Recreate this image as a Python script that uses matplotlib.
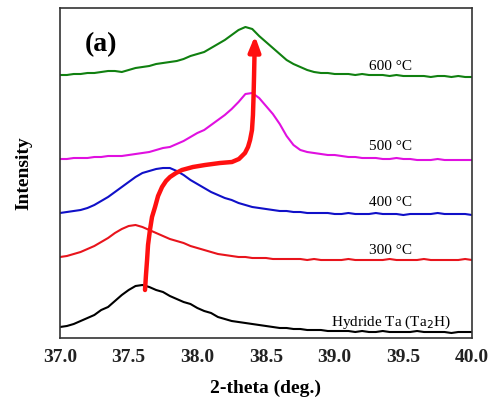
import numpy as np
import matplotlib
matplotlib.use("Agg")
import matplotlib.pyplot as plt

# 2-theta grid (deg.)
two_theta = [round(37.0 + 0.05 * i, 2) for i in range(61)]

hydride = [11, 12, 14, 17, 20, 23, 28, 31, 37, 43,
           48, 52, 53, 51, 48, 46, 42, 39, 36, 34,
           30, 27, 25, 21, 19, 17, 16, 15, 14, 13,
           12, 11, 10, 10, 9, 9, 8, 8, 8, 7,
           7, 7, 7, 6, 7, 6, 6, 7, 6, 6,
           6, 6, 7, 6, 6, 6, 6, 5, 6, 6, 6]
t300 = [81, 82, 84, 86, 89, 92, 96, 100, 105, 109,
        112, 113, 111, 108, 105, 102, 99, 97, 95, 92,
        90, 88, 86, 84, 83, 82, 81, 81, 80, 80,
        80, 79, 79, 79, 79, 79, 78, 79, 78, 78,
        78, 78, 79, 78, 78, 78, 78, 78, 79, 78,
        78, 78, 78, 79, 78, 78, 78, 78, 78, 79, 78]
t400 = [125, 126, 127, 128, 130, 133, 137, 141, 146, 151,
        156, 161, 165, 167, 169, 170, 170, 167, 163, 158,
        154, 150, 146, 143, 140, 138, 135, 133, 131, 130,
        129, 128, 127, 127, 126, 126, 125, 125, 125, 125,
        124, 124, 125, 124, 124, 124, 125, 124, 124, 124,
        123, 124, 124, 124, 124, 125, 124, 124, 124, 124, 123]
t500 = [179, 179, 180, 180, 180, 181, 181, 182, 182, 182,
        183, 184, 185, 186, 188, 190, 191, 194, 197, 201,
        205, 208, 213, 218, 223, 229, 236, 244, 245, 240,
        232, 224, 214, 202, 193, 188, 186, 185, 184, 183,
        183, 182, 181, 181, 180, 180, 180, 179, 179, 180,
        179, 179, 178, 178, 178, 179, 178, 178, 178, 178, 178]
t600 = [263, 263, 264, 264, 265, 265, 266, 267, 267, 266,
        268, 270, 271, 272, 274, 275, 276, 277, 279, 282,
        284, 286, 290, 294, 298, 303, 308, 311, 309, 302,
        296, 290, 284, 278, 274, 271, 268, 266, 265, 265,
        264, 264, 264, 263, 264, 263, 263, 263, 262, 263,
        262, 262, 262, 262, 261, 262, 262, 261, 262, 261, 261]

series_labels = ["Hydride Ta (Ta$_2$H)", "300 \u00b0C", "400 \u00b0C", "500 \u00b0C", "600 \u00b0C"]
series_colors = ["#000000", "#e8141c", "#1010c8", "#e010e0", "#108010"]

# peak-shift arrow path
arrow_x = [37.619, 37.626, 37.634, 37.641, 37.655, 37.670, 37.692, 37.714, 37.743,
           37.772, 37.801, 37.845, 37.888, 37.968, 38.056, 38.165, 38.252, 38.303,
           38.347, 38.369, 38.384, 38.398, 38.405, 38.409, 38.413, 38.416]
arrow_y = [48, 63, 78, 93, 108, 121, 131, 142, 151,
           157, 161, 165, 168, 171, 173, 175, 176, 179,
           185, 191, 198, 208, 223, 240, 262, 282]

serif = ["Liberation Serif", "DejaVu Serif"]

fig = plt.figure(figsize=(4.97, 4.05), dpi=100)
ax = fig.add_axes([60 / 497, (405 - 338) / 405, (472 - 60) / 497, 330 / 405])

for ys, c in zip([hydride, t300, t400, t500, t600], series_colors):
    ax.plot(two_theta, ys, color=c, lw=1.5)

ax.plot(arrow_x, arrow_y, color="#ff1010", lw=3.2, solid_capstyle="round",
        solid_joinstyle="round", zorder=5)
ax.annotate("", xy=(38.42, 305), xytext=(38.416, 282),
            arrowprops=dict(arrowstyle="-|>,head_width=0.35,head_length=0.9",
                            color="#ff1010", lw=3.2), zorder=6)

label_y = [16, 88, 135, 191, 271]
for lab, ly in zip(series_labels, label_y):
    ax.text(39.41, ly, lab, ha="center", va="center", fontsize=11, family=serif)

ax.text(0.06, 0.89, "(a)", transform=ax.transAxes, fontsize=20, fontweight="bold",
        family=serif, ha="left", va="center")

ax.set_xlim(37.0, 40.0)
ax.set_ylim(0, 330)
ax.set_xticks([37.0, 37.5, 38.0, 38.5, 39.0, 39.5, 40.0])
ax.set_xticklabels(["37.0", "37.5", "38.0", "38.5", "39.0", "39.5", "40.0"])
ax.set_yticks([])
ax.tick_params(axis="x", length=0, pad=8)
for lbl in ax.get_xticklabels():
    lbl.set_fontfamily(serif)
    lbl.set_fontweight("bold")
    lbl.set_fontsize(14)
    lbl.set_color("#222222")
for s in ax.spines.values():
    s.set_color("#333333")
    s.set_linewidth(1.2)

ax.set_xlabel("2-theta (deg.)", fontsize=14, fontweight="bold", family=serif, labelpad=10)
ax.set_ylabel("Intensity", fontsize=14, fontweight="bold", family=serif, labelpad=20)

fig.savefig("out.png", dpi=100)
